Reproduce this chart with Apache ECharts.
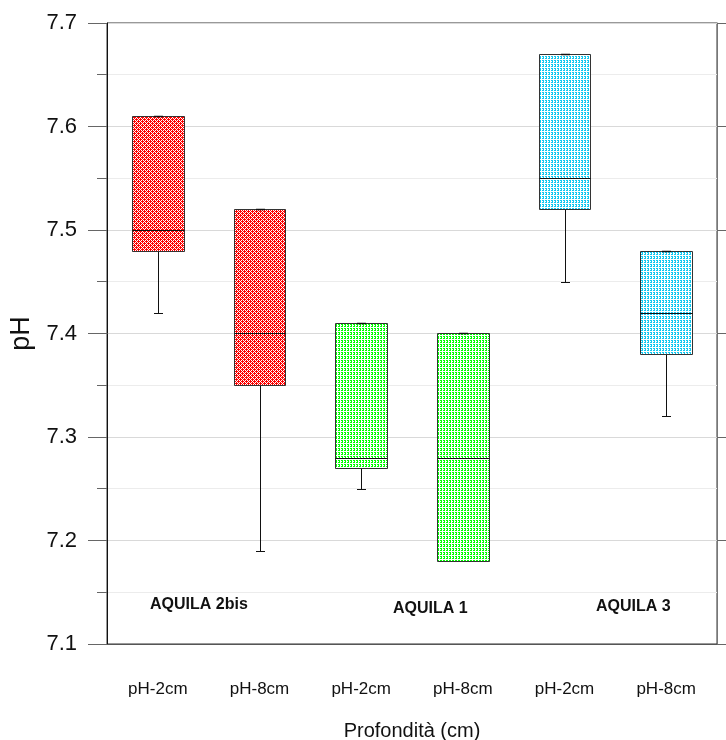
<!DOCTYPE html>
<html>
<head>
<meta charset="utf-8">
<script src="https://cdn.jsdelivr.net/npm/echarts@6/dist/echarts.min.js"></script>
<style>
  html, body { margin: 0; padding: 0; background: #fff; overflow: hidden; }
  #chart { width: 726px; height: 740px; }
</style>
</head>
<body>
<div id="chart"></div>
<script>
// Box categories (sampling depth) and the site each box belongs to
const depthLabels = ['pH-2cm', 'pH-8cm', 'pH-2cm', 'pH-8cm', 'pH-2cm', 'pH-8cm'];
const siteOfBox = [0, 0, 1, 1, 2, 2];
const siteNames = ['AQUILA 2bis', 'AQUILA 1', 'AQUILA 3'];

// Box statistics per category
const whiskerLow = [7.42, 7.19, 7.25, 7.18, 7.45, 7.32];
const quartile1 = [7.48, 7.35, 7.27, 7.18, 7.52, 7.38];
const medianVals = [7.50, 7.40, 7.28, 7.28, 7.55, 7.42];
const quartile3 = [7.61, 7.52, 7.41, 7.40, 7.67, 7.48];
const whiskerHigh = [7.61, 7.52, 7.41, 7.40, 7.67, 7.48];

// Y axis range
const yMin = 7.1, yMax = 7.7, yStep = 0.1;

// Small repeating tiles used as hatch fills for each site
function makeTile(rows, colour) {
  const h = rows.length, w = rows[0].length;
  const c = document.createElement('canvas');
  c.width = w; c.height = h;
  const ctx = c.getContext('2d');
  ctx.fillStyle = '#ffffff';
  ctx.fillRect(0, 0, w, h);
  ctx.fillStyle = colour;
  for (let y = 0; y < h; y++) {
    for (let x = 0; x < w; x++) {
      if (rows[y][x] === '#') ctx.fillRect(x, y, 1, 1);
    }
  }
  return c;
}
const tiles = [
  makeTile(['#.#.', '.###', '#.#.', '##.#'], '#ff0000'),
  makeTile(['#.#', '#..', '#.#', '...'], '#00ff00'),
  makeTile(['#.#', '#..', '#.#', '...'], '#10c8f0')
];

const boxData = depthLabels.map((_, i) => [i, whiskerLow[i], quartile1[i], medianVals[i], quartile3[i], whiskerHigh[i]]);

function px(v) { return Math.round(v) + 0.5; }

const fontFamily = '"Liberation Sans", Arial, sans-serif';
const chart = echarts.init(document.getElementById('chart'), null, { renderer: 'canvas', width: 726, height: 740 });

chart.setOption({
  animation: false,
  backgroundColor: '#ffffff',
  textStyle: { fontFamily: fontFamily },
  grid: {
    left: 107, width: 610, top: 23, height: 621,
    outerBoundsMode: 'none',
    containLabel: false,
    show: true, borderColor: '#333', borderWidth: 1, backgroundColor: 'transparent'
  },
  xAxis: {
    type: 'category',
    data: depthLabels,
    boundaryGap: true,
    name: 'Profondità (cm)',
    nameLocation: 'middle',
    nameGap: 77,
    nameTextStyle: { fontSize: 20, color: '#111' },
    axisLine: { lineStyle: { color: '#555', width: 1 } },
    axisTick: { alignWithLabel: true, length: 21, lineStyle: { color: '#222' } },
    axisLabel: { margin: 37, fontSize: 17, color: '#111' },
    splitLine: { show: false }
  },
  yAxis: [
    {
      type: 'value',
      min: yMin, max: yMax, interval: yStep,
      name: 'pH',
      nameLocation: 'middle',
      nameGap: 68,
      nameRotate: 90,
      nameTextStyle: { fontSize: 27, color: '#111' },
      axisLine: { show: true, lineStyle: { color: '#111' } },
      axisTick: { show: true, length: 19, lineStyle: { color: '#666' } },
      minorTick: { show: true, splitNumber: 2, length: 10, lineStyle: { color: '#666' } },
      axisLabel: { margin: 30, fontSize: 22, color: '#111', formatter: v => v.toFixed(1) },
      splitLine: { show: true, lineStyle: { color: '#d9d9d9' } },
      minorSplitLine: { show: true, lineStyle: { color: '#ececec' } }
    },
    {
      type: 'value',
      position: 'right',
      min: yMin, max: yMax, interval: yStep,
      axisLine: { show: true, lineStyle: { color: '#777' } },
      axisTick: { show: true, length: 9, lineStyle: { color: '#666' } },
      axisLabel: { show: false },
      splitLine: { show: false }
    }
  ],
  series: [{
    type: 'custom',
    xAxisIndex: 0,
    yAxisIndex: 0,
    z: 5,
    data: boxData,
    encode: { x: 0, y: [1, 2, 3, 4, 5] },
    renderItem: function (params, api) {
      const i = params.dataIndex;
      const xv = api.value(0);
      const low = api.coord([xv, api.value(1)]);
      const q1 = api.coord([xv, api.value(2)]);
      const med = api.coord([xv, api.value(3)]);
      const q3 = api.coord([xv, api.value(4)]);
      const high = api.coord([xv, api.value(5)]);
      const bw = api.size([1, 0])[0] * 0.505;
      const cx = px(q1[0]);
      const left = px(q1[0] - bw / 2);
      const right = px(q1[0] + bw / 2);
      const cap = 4.5;
      const top = px(q3[1]);
      const bottom = px(q1[1]);
      const line = { stroke: '#111', lineWidth: 1 };
      return {
        type: 'group',
        children: [
          { type: 'line', shape: { x1: cx, y1: bottom, x2: cx, y2: px(low[1]) }, style: line },
          { type: 'line', shape: { x1: cx - cap, y1: px(low[1]), x2: cx + cap, y2: px(low[1]) }, style: line },
          { type: 'line', shape: { x1: cx, y1: top, x2: cx, y2: px(high[1]) }, style: line },
          {
            type: 'rect',
            shape: { x: left, y: top, width: right - left, height: bottom - top },
            style: { fill: { image: tiles[siteOfBox[i]], repeat: 'repeat' }, stroke: '#333', lineWidth: 1 }
          },
          { type: 'line', z2: 10, shape: { x1: left, y1: px(med[1]), x2: right, y2: px(med[1]) }, style: { stroke: '#111', lineWidth: 1 } },
          { type: 'line', z2: 10, shape: { x1: cx - cap, y1: px(high[1]), x2: cx + cap, y2: px(high[1]) }, style: { stroke: '#111', lineWidth: 1.5 } }
        ]
      };
    }
  }],
  graphic: [
    { type: 'text', left: 150, top: 597, style: { text: siteNames[0], fontSize: 16, fontWeight: 'bold', fill: '#111', fontFamily: fontFamily } },
    { type: 'text', left: 393, top: 601, style: { text: siteNames[1], fontSize: 16, fontWeight: 'bold', fill: '#111', fontFamily: fontFamily } },
    { type: 'text', left: 596, top: 599, style: { text: siteNames[2], fontSize: 16, fontWeight: 'bold', fill: '#111', fontFamily: fontFamily } }
  ]
});
</script>
</body>
</html>
